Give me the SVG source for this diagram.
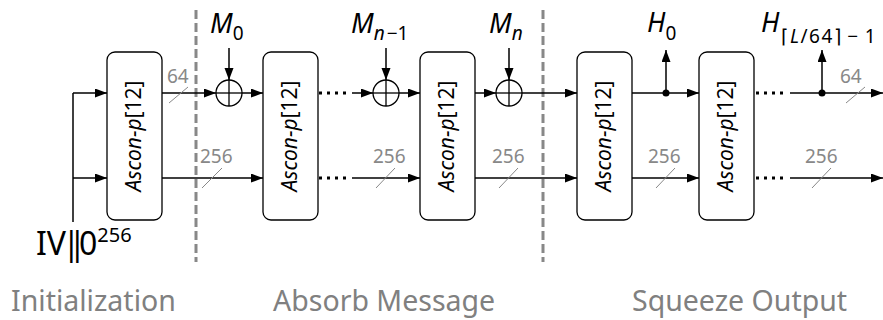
<svg xmlns="http://www.w3.org/2000/svg" width="883" height="320" viewBox="0 0 883 320">
<defs>
<marker id="ah" markerUnits="userSpaceOnUse" markerWidth="13" markerHeight="10" refX="12" refY="4.5" orient="auto">
<path d="M0,0 L12,4.5 L0,9 z" fill="#000"/>
</marker>
<style>
.box{fill:#fff;stroke:#000;stroke-width:1.3}
.bl{font-family:"Noto Sans",sans-serif;font-size:21px;fill:#000}
.w{stroke:#000;stroke-width:1.5;fill:none}
.a{marker-end:url(#ah)}
.dot{stroke:#000;stroke-width:3;stroke-dasharray:3 5;fill:none}
.sl{stroke:#888;stroke-width:1}
.num{font-family:"Noto Sans",sans-serif;font-size:19px;fill:#888}
.div{stroke:#888;stroke-width:3;stroke-dasharray:9 4}
.xc{fill:#fff;stroke:#000;stroke-width:1.3}
.xl{stroke:#000;stroke-width:1.3}
.var{font-family:"Noto Sans",sans-serif;font-size:27px;font-style:italic;fill:#000}
.sub{font-size:19px;font-style:normal}
.it{font-style:italic}
.phase{font-family:"Noto Sans",sans-serif;font-size:28.5px;fill:#808080}
</style>
</defs>

<g id="dividers">
<line class="div" x1="196" y1="10" x2="196" y2="262"/>
<line class="div" x1="543" y1="10" x2="543" y2="262"/>
</g>

<g id="connectors">
<path class="w" d="M73,222 V93"/>
<path class="w a" d="M73,93 H107"/>
<path class="w a" d="M73,178 H107"/>
<path class="w a" d="M162,93 H216"/>
<path class="w a" d="M242,93 H263"/>
<path class="w a" d="M162,178 H263"/>
<path class="w a" d="M229,48 V80"/>
<path class="dot" d="M319,93 H350"/>
<path class="w a" d="M352,93 H373"/>
<path class="w a" d="M399,93 H420"/>
<path class="dot" d="M319,178 H350"/>
<path class="w a" d="M352,178 H420"/>
<path class="w a" d="M386,48 V80"/>
<path class="w a" d="M475,93 H496"/>
<path class="w a" d="M522,93 H577"/>
<path class="w a" d="M475,178 H577"/>
<path class="w a" d="M509,48 V80"/>
<path class="w a" d="M632,93 H699"/>
<path class="w a" d="M632,178 H699"/>
<path class="w a" d="M666,93 V50"/>
<circle cx="666" cy="93" r="3.5" fill="#000"/>
<path class="dot" d="M756,93 H788"/>
<path class="w a" d="M790,93 H883"/>
<path class="dot" d="M756,178 H788"/>
<path class="w a" d="M790,178 H883"/>
<path class="w a" d="M822,93 V50"/>
<circle cx="822" cy="93" r="3.5" fill="#000"/>
</g>

<g id="widths">
<line class="sl" x1="169" y1="103" x2="188" y2="87"/>
<text class="num" x="167" y="83">64</text>
<line class="sl" x1="202" y1="188" x2="222" y2="168"/>
<text class="num" x="200" y="163">256</text>
<line class="sl" x1="376" y1="188" x2="395" y2="168"/>
<text class="num" x="373" y="163">256</text>
<line class="sl" x1="499" y1="188" x2="518" y2="168"/>
<text class="num" x="492" y="163">256</text>
<line class="sl" x1="656" y1="188" x2="675" y2="168"/>
<text class="num" x="648" y="163">256</text>
<line class="sl" x1="812" y1="188" x2="831" y2="168"/>
<text class="num" x="805" y="163">256</text>
<line class="sl" x1="846" y1="103" x2="865" y2="87"/>
<text class="num" x="840" y="83">64</text>
</g>

<g id="box1">
<rect class="box" x="107" y="52" width="55" height="168" rx="8"/>
<text class="bl" transform="translate(141,136) rotate(-90)" text-anchor="middle"><tspan class="it">Ascon-p</tspan>[12]</text>
</g>
<g id="box2">
<rect class="box" x="263" y="52" width="55" height="168" rx="8"/>
<text class="bl" transform="translate(297,136) rotate(-90)" text-anchor="middle"><tspan class="it">Ascon-p</tspan>[12]</text>
</g>
<g id="box3">
<rect class="box" x="420" y="52" width="55" height="168" rx="8"/>
<text class="bl" transform="translate(454,136) rotate(-90)" text-anchor="middle"><tspan class="it">Ascon-p</tspan>[12]</text>
</g>
<g id="box4">
<rect class="box" x="577" y="52" width="55" height="168" rx="8"/>
<text class="bl" transform="translate(611,136) rotate(-90)" text-anchor="middle"><tspan class="it">Ascon-p</tspan>[12]</text>
</g>
<g id="box5">
<rect class="box" x="699" y="52" width="55" height="168" rx="8"/>
<text class="bl" transform="translate(733,136) rotate(-90)" text-anchor="middle"><tspan class="it">Ascon-p</tspan>[12]</text>
</g>

<g id="xor1">
<circle class="xc" cx="229" cy="93" r="13"/>
<line class="xl" x1="216" y1="93" x2="242" y2="93"/>
<line class="xl" x1="229" y1="80" x2="229" y2="106"/>
</g>
<g id="xor2">
<circle class="xc" cx="386" cy="93" r="13"/>
<line class="xl" x1="373" y1="93" x2="399" y2="93"/>
<line class="xl" x1="386" y1="80" x2="386" y2="106"/>
</g>
<g id="xor3">
<circle class="xc" cx="509" cy="93" r="13"/>
<line class="xl" x1="496" y1="93" x2="522" y2="93"/>
<line class="xl" x1="509" y1="80" x2="509" y2="106"/>
</g>

<g id="iv">
<text font-family="Noto Sans, sans-serif" font-size="32" x="36" y="255">IV<tspan x="62.5">|</tspan><tspan x="68.5">|</tspan><tspan x="79">0</tspan><tspan font-size="20" dy="-13">256</tspan></text>
</g>
<g id="m0"><text class="var" x="210" y="33">M<tspan class="sub" dy="7">0</tspan></text></g>
<g id="mn1"><text class="var" x="351" y="33">M<tspan class="sub it" dy="7">n</tspan><tspan class="sub" dx="2">−1</tspan></text></g>
<g id="mn"><text class="var" x="489" y="33">M<tspan class="sub it" dy="7">n</tspan></text></g>
<g id="h0"><text class="var" x="647" y="32">H<tspan class="sub" dy="8">0</tspan></text></g>
<g id="hl"><text class="var" x="761" y="32">H<tspan class="sub" dy="11" dx="2" font-size="20" letter-spacing="1.5">⌈<tspan class="it">L</tspan>/64⌉<tspan dx="5">−</tspan><tspan dx="5">1</tspan></tspan></text></g>

<g id="phases">
<text class="phase" x="11" y="311">Initialization</text>
<text class="phase" x="273" y="311">Absorb Message</text>
<text class="phase" x="632" y="311">Squeeze Output</text>
</g>
</svg>
